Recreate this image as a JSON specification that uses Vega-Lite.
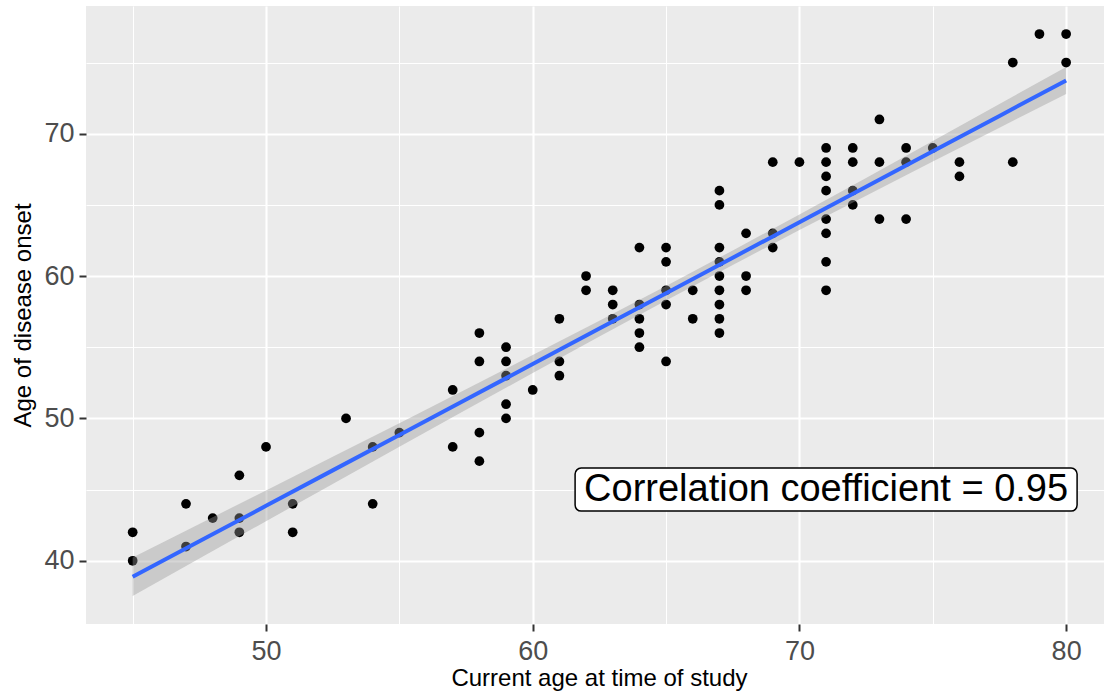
{
  "$schema": "https://vega.github.io/schema/vega-lite/v6.json",
  "autosize": {"type": "none"},
  "padding": {"left": 86, "top": 6, "right": 0, "bottom": 72},
  "width": 1018,
  "height": 618,
  "background": "white",
  "config": {
    "view": {"fill": "#EBEBEB", "stroke": null},
    "font": "Liberation Sans",
    "axis": {
      "domain": false,
      "gridColor": "white",
      "labelColor": "#4D4D4D",
      "labelFontSize": 27,
      "labelFont": "Liberation Sans",
      "titleFont": "Liberation Sans",
      "titleFontSize": 24,
      "titleFontWeight": "normal",
      "titleColor": "black",
      "tickColor": "#333333",
      "tickWidth": 2,
      "tickSize": 7
    }
  },
  "datasets": {
    "pts": [
      {"age": 45, "onset": 42}, {"age": 45, "onset": 40},
      {"age": 47, "onset": 44}, {"age": 47, "onset": 41},
      {"age": 48, "onset": 43},
      {"age": 49, "onset": 46}, {"age": 49, "onset": 43}, {"age": 49, "onset": 42},
      {"age": 50, "onset": 48},
      {"age": 51, "onset": 44}, {"age": 51, "onset": 42},
      {"age": 53, "onset": 50},
      {"age": 54, "onset": 48}, {"age": 54, "onset": 44},
      {"age": 55, "onset": 49},
      {"age": 57, "onset": 52}, {"age": 57, "onset": 48},
      {"age": 58, "onset": 56}, {"age": 58, "onset": 54}, {"age": 58, "onset": 49}, {"age": 58, "onset": 47},
      {"age": 59, "onset": 55}, {"age": 59, "onset": 54}, {"age": 59, "onset": 53}, {"age": 59, "onset": 51}, {"age": 59, "onset": 50},
      {"age": 60, "onset": 52},
      {"age": 61, "onset": 57}, {"age": 61, "onset": 54}, {"age": 61, "onset": 53},
      {"age": 62, "onset": 60}, {"age": 62, "onset": 59},
      {"age": 63, "onset": 59}, {"age": 63, "onset": 58}, {"age": 63, "onset": 57},
      {"age": 64, "onset": 62}, {"age": 64, "onset": 58}, {"age": 64, "onset": 57}, {"age": 64, "onset": 56}, {"age": 64, "onset": 55},
      {"age": 65, "onset": 62}, {"age": 65, "onset": 61}, {"age": 65, "onset": 59}, {"age": 65, "onset": 58}, {"age": 65, "onset": 54},
      {"age": 66, "onset": 59}, {"age": 66, "onset": 57},
      {"age": 67, "onset": 66}, {"age": 67, "onset": 65}, {"age": 67, "onset": 62}, {"age": 67, "onset": 61}, {"age": 67, "onset": 60}, {"age": 67, "onset": 59}, {"age": 67, "onset": 58}, {"age": 67, "onset": 57}, {"age": 67, "onset": 56},
      {"age": 68, "onset": 63}, {"age": 68, "onset": 60}, {"age": 68, "onset": 59},
      {"age": 69, "onset": 68}, {"age": 69, "onset": 63}, {"age": 69, "onset": 62},
      {"age": 70, "onset": 68},
      {"age": 71, "onset": 69}, {"age": 71, "onset": 68}, {"age": 71, "onset": 67}, {"age": 71, "onset": 66}, {"age": 71, "onset": 64}, {"age": 71, "onset": 63}, {"age": 71, "onset": 61}, {"age": 71, "onset": 59},
      {"age": 72, "onset": 69}, {"age": 72, "onset": 68}, {"age": 72, "onset": 66}, {"age": 72, "onset": 65},
      {"age": 73, "onset": 71}, {"age": 73, "onset": 68}, {"age": 73, "onset": 64},
      {"age": 74, "onset": 69}, {"age": 74, "onset": 68}, {"age": 74, "onset": 64},
      {"age": 75, "onset": 69},
      {"age": 76, "onset": 68}, {"age": 76, "onset": 67},
      {"age": 78, "onset": 75}, {"age": 78, "onset": 68},
      {"age": 79, "onset": 77},
      {"age": 80, "onset": 77}, {"age": 80, "onset": 75}
    ],
    "fit": [
      {"age": 45, "fit": 38.88, "lo": 37.53, "hi": 40.23},
      {"age": 47.5, "fit": 41.37, "lo": 40.16, "hi": 42.59},
      {"age": 50, "fit": 43.86, "lo": 42.78, "hi": 44.94},
      {"age": 52.5, "fit": 46.35, "lo": 45.40, "hi": 47.31},
      {"age": 55, "fit": 48.84, "lo": 48.01, "hi": 49.67},
      {"age": 57.5, "fit": 51.33, "lo": 50.61, "hi": 52.05},
      {"age": 60, "fit": 53.82, "lo": 53.19, "hi": 54.45},
      {"age": 62.5, "fit": 56.31, "lo": 55.76, "hi": 56.86},
      {"age": 65, "fit": 58.80, "lo": 58.29, "hi": 59.31},
      {"age": 67.5, "fit": 61.29, "lo": 60.78, "hi": 61.80},
      {"age": 70, "fit": 63.78, "lo": 63.23, "hi": 64.33},
      {"age": 72.5, "fit": 66.27, "lo": 65.65, "hi": 66.89},
      {"age": 75, "fit": 68.76, "lo": 68.04, "hi": 69.48},
      {"age": 77.5, "fit": 71.25, "lo": 70.42, "hi": 72.08},
      {"age": 80, "fit": 73.74, "lo": 72.79, "hi": 74.69}
    ],
    "note": [
      {"age": 71, "onset": 45, "label": "Correlation coefficient = 0.95"}
    ]
  },
  "encoding": {
    "x": {
      "field": "age", "type": "quantitative",
      "scale": {"domain": [43.25, 81.42], "nice": false, "zero": false},
      "axis": {
        "title": "Current age at time of study",
        "values": [45, 50, 55, 60, 65, 70, 75, 80],
        "labelExpr": "datum.value % 10 === 0 ? datum.label : ''",
        "tickOpacity": {"condition": {"test": "datum.value % 10 === 0", "value": 1}, "value": 0},
        "gridWidth": {"condition": {"test": "datum.value % 10 === 0", "value": 2.1}, "value": 1.05},
        "labelPadding": 7,
        "titlePadding": 2,
        "titleX": 513
      }
    }
  },
  "layer": [
    {
      "data": {"name": "pts"},
      "mark": {"type": "circle", "size": 95, "color": "black", "opacity": 1},
      "encoding": {
        "y": {
          "field": "onset", "type": "quantitative",
          "scale": {"domain": [35.56, 78.97], "nice": false, "zero": false},
          "axis": {
            "title": "Age of disease onset",
            "values": [40, 45, 50, 55, 60, 65, 70, 75],
            "labelExpr": "datum.value % 10 === 0 ? datum.label : ''",
            "tickOpacity": {"condition": {"test": "datum.value % 10 === 0", "value": 1}, "value": 0},
            "gridWidth": {"condition": {"test": "datum.value % 10 === 0", "value": 2.1}, "value": 1.05},
            "labelPadding": 5,
            "titlePadding": 8
          }
        }
      }
    },
    {
      "data": {"name": "fit"},
      "mark": {"type": "area", "color": "#999999", "opacity": 0.4},
      "encoding": {
        "y": {"field": "lo", "type": "quantitative"},
        "y2": {"field": "hi"}
      }
    },
    {
      "data": {"name": "fit"},
      "mark": {"type": "line", "color": "#3366FF", "strokeWidth": 4},
      "encoding": {
        "y": {"field": "fit", "type": "quantitative"}
      }
    },
    {
      "data": {"name": "note"},
      "mark": {"type": "rect", "width": 502, "height": 43, "fill": "white", "stroke": "black", "strokeWidth": 1.5, "cornerRadius": 6},
      "encoding": {
        "y": {"field": "onset", "type": "quantitative"}
      }
    },
    {
      "data": {"name": "note"},
      "mark": {"type": "text", "fontSize": 38, "font": "Liberation Sans", "align": "center", "baseline": "middle", "color": "black"},
      "encoding": {
        "y": {"field": "onset", "type": "quantitative"},
        "text": {"field": "label"}
      }
    }
  ]
}
